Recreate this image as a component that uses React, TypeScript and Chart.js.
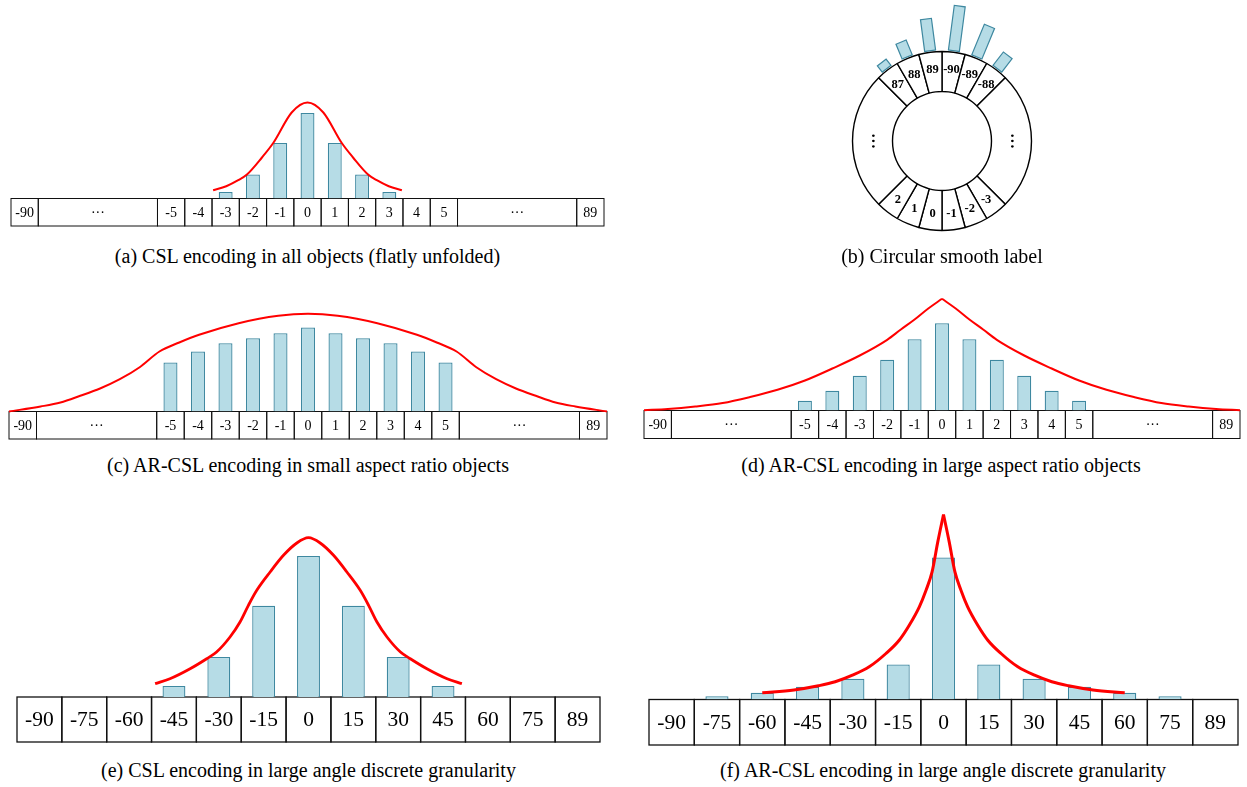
import React, { useEffect, useRef } from "react";
import { Chart, registerables } from "chart.js";

Chart.register(...registerables);
Chart.defaults.font.family = '"Liberation Serif", "Times New Roman", serif';

// ---------------- DATA ----------------
// Fine rows (panels a, c, d): cell labels and widths (in cell units), cell "0" centred at x = 0
const fineLabels = ["-90", "···", "-5", "-4", "-3", "-2", "-1", "0", "1", "2", "3", "4", "5", "···", "89"];
const fineWidths = [1, 4.37, 1, 1, 1, 1, 1, 1, 1, 1, 1, 1, 1, 4.37, 1];

// Coarse rows (panels e, f): 15° cells
const coarseLabels = ["-90", "-75", "-60", "-45", "-30", "-15", "0", "15", "30", "45", "60", "75", "89"];
const coarseWidths = [15, 15, 15, 15, 15, 15, 15, 15, 15, 15, 15, 15, 15];

// (a) CSL in all objects
const aBarX = [-3, -2, -1, 0, 1, 2, 3];
const aBarY = [6.6, 24, 55.6, 85.6, 55.6, 24, 6.6];
const aCurveX = [-3.46, -2.98, -2.54, -2.22, -1.67, -1.25, -0.58, 0, 0.58, 1.25, 1.67, 2.22, 2.54, 2.98, 3.46];
const aCurveY = [8.3, 12.3, 18.3, 24, 41, 55.7, 86, 96, 86, 55.7, 41, 24, 18.3, 12.3, 8.3];

// (b) circular smooth label ring (segment spans in degrees, clockwise from top)
const ringLabels = ["-90", "-89", "-88", "⋮", "-3", "-2", "-1", "0", "1", "2", "⋮", "87", "88", "89"];
const ringSpans = [15, 15, 15, 90, 15, 15, 15, 15, 15, 15, 90, 15, 15, 15];
const ringBars = [45, 33, 17, 0, 0, 0, 0, 0, 0, 0, 0, 8, 16, 32];

// (c) AR-CSL small aspect ratio
const cBarX = [-5, -4, -3, -2, -1, 0, 1, 2, 3, 4, 5];
const cBarY = [49, 60, 68.3, 73.3, 78.3, 84, 78.3, 73.3, 68.3, 60, 49];
const cCurveX = [-10.87, -9.72, -9.0, -8.28, -7.56, -6.84, -6.12, -5.4, -4.68, -3.96, -2.52, -1.08, 0,
  1.08, 2.52, 3.96, 4.68, 5.4, 6.12, 6.84, 7.56, 8.28, 9.0, 9.72, 10.87];
const cCurveY = [0, 5, 9, 15.7, 23, 32.3, 44.3, 60, 69, 76.7, 88.3, 95.7, 97.7,
  95.7, 88.3, 76.7, 69, 60, 44.3, 32.3, 23, 15.7, 9, 5, 0];

// (d) AR-CSL large aspect ratio
const dBarX = [-5, -4, -3, -2, -1, 0, 1, 2, 3, 4, 5];
const dBarY = [9.7, 19.7, 34.7, 50.7, 71.3, 87.3, 71.3, 50.7, 34.7, 19.7, 9.7];
const dCurveLeftX = [-10.87, -10, -9, -8, -7, -6, -5, -4, -3, -2, -1.5, -1, -0.5, 0];
const dCurveLeftY = [0.3, 1.5, 4, 7.5, 13.5, 20.7, 30, 42, 55, 70.7, 81, 91, 102, 111.7];
const dCurveRightX = [0, 0.5, 1, 1.5, 2, 3, 4, 5, 6, 7, 8, 9, 10, 10.87];
const dCurveRightY = [111.7, 102, 91, 81, 70.7, 55, 42, 30, 20.7, 13.5, 7.5, 4, 1.5, 0.3];

// (e) CSL large angle granularity
const eBarX = [-45, -30, -15, 0, 15, 30, 45];
const eBarY = [11, 40, 91.3, 141, 91.3, 40, 11];
const eCurveX = [-51.3, -46.35, -39.6, -34.05, -30.75, -26.25, -22.9, -20.1, -17.3, -12.84, -8.37, -3.9, 0,
  3.9, 8.37, 12.84, 17.3, 20.1, 22.9, 26.25, 30.75, 34.05, 39.6, 46.35, 51.3];
const eCurveY = [13.3, 18.3, 28.3, 38.3, 45, 60, 75, 91.7, 106.7, 125, 141.7, 154, 159.3,
  154, 141.7, 125, 106.7, 91.7, 75, 60, 45, 38.3, 28.3, 18.3, 13.3];

// (f) AR-CSL large angle granularity
const fBarX = [-75, -60, -45, -30, -15, 0, 15, 30, 45, 60, 75];
const fBarY = [3.3, 6.7, 12.7, 20.7, 35, 142, 35, 20.7, 12.7, 6.7, 3.3];
const fCurveLeftX = [-60, -49.5, -41.4, -35.85, -30.15, -24.6, -19.05, -14.67, -11.34, -8.0, -5.78, -3.78, -1.89, 0];
const fCurveLeftY = [6.7, 9.5, 13.7, 17.7, 24.3, 32.7, 46, 59.3, 74.3, 92.7, 109.3, 127.6, 157.6, 185];
const fCurveRightX = [0, 1.89, 3.78, 5.78, 8.0, 11.34, 14.67, 19.05, 24.6, 30.15, 35.85, 41.4, 49.5, 60];
const fCurveRightY = [185, 157.6, 127.6, 109.3, 92.7, 74.3, 59.3, 46, 32.7, 24.3, 17.7, 13.7, 9.5, 6.7];

const captions = [
  "(a) CSL encoding in all objects (flatly unfolded)",
  "(b) Circular smooth label",
  "(c) AR-CSL encoding in small aspect ratio objects",
  "(d) AR-CSL encoding in large aspect ratio objects",
  "(e) CSL encoding in large angle discrete granularity",
  "(f) AR-CSL encoding in large angle discrete granularity",
];

// ---------------- STYLE / LAYOUT ----------------
const BAR_FILL = "#b6dce6";
const BAR_EDGE = "#3e88a0";
const RED = "#ff0000";
const SERIF = '"Liberation Serif", "Times New Roman", serif';

type Geom = { left: number; right: number; boxTop: number; boxBottom: number; top: number };

const boxRowPlugin = {
  id: "boxRow",
  beforeDatasetsDraw(chart: any, _args: any, opts: any) {
    const xs = chart.scales.x;
    const ctx = chart.ctx;
    const top = chart.chartArea.bottom;
    const h = opts.height;
    let pos = opts.start;
    ctx.save();
    ctx.strokeStyle = "#111";
    ctx.lineWidth = opts.lineWidth;
    ctx.fillStyle = "#000";
    ctx.font = `${opts.fontSize}px ${SERIF}`;
    ctx.textAlign = "center";
    ctx.textBaseline = "middle";
    opts.labels.forEach((lab: string, i: number) => {
      const x0 = xs.getPixelForValue(pos);
      const x1 = xs.getPixelForValue(pos + opts.widths[i]);
      ctx.strokeRect(x0, top, x1 - x0, h);
      ctx.fillText(lab, (x0 + x1) / 2, top + h / 2 + opts.textShift);
      pos += opts.widths[i];
    });
    ctx.restore();
  },
};

type Curve = { x: number[]; y: number[] };
type PanelSpec = {
  geom: Geom;
  labels: string[];
  widths: number[];
  barX: number[];
  barY: number[];
  curves: Curve[];
  lineWidth: number;
  fontSize: number;
  boxLine: number;
};

function LinePanel({ spec }: { spec: PanelSpec }) {
  const ref = useRef<HTMLCanvasElement | null>(null);
  const g = spec.geom;
  const canvasLeft = Math.floor(g.left - 4);
  const canvasRight = Math.ceil(g.right + 4);
  const canvasTop = g.top;
  const canvasBottom = Math.ceil(g.boxBottom + 4);
  const W = canvasRight - canvasLeft;
  const H = canvasBottom - canvasTop;
  useEffect(() => {
    if (!ref.current) return;
    const total = spec.widths.reduce((a, b) => a + b, 0);
    const start = -total / 2;
    const centers: number[] = [];
    let p = start;
    spec.widths.forEach((w) => {
      centers.push(p + w / 2);
      p += w;
    });
    const chart = new Chart(ref.current, {
      type: "bar",
      data: {
        datasets: [
          {
            type: "bar",
            data: spec.barX.map((x, i) => ({ x, y: spec.barY[i] })),
            backgroundColor: BAR_FILL,
            borderColor: BAR_EDGE,
            borderWidth: 1.3,
            borderSkipped: "start",
            barPercentage: 0.51,
            categoryPercentage: 1,
            order: 2,
          } as any,
          ...spec.curves.map(
            (c) =>
              ({
                type: "line",
                data: c.x.map((x, i) => ({ x, y: c.y[i] })),
                borderColor: RED,
                borderWidth: spec.lineWidth,
                pointRadius: 0,
                cubicInterpolationMode: "monotone",
                fill: false,
                clip: false,
                order: 1,
              } as any)
          ),
        ],
      },
      options: {
        animation: false,
        responsive: false,
        events: [],
        layout: {
          padding: {
            left: g.left - canvasLeft,
            right: canvasRight - g.right,
            top: 0,
            bottom: canvasBottom - g.boxTop,
          },
        },
        scales: {
          x: {
            type: "linear",
            min: start,
            max: start + total,
            display: false,
            offset: false,
            afterBuildTicks: (axis: any) => {
              axis.ticks = centers.map((v) => ({ value: v }));
            },
          },
          y: { type: "linear", min: 0, max: g.boxTop - canvasTop, display: false },
        },
        plugins: {
          legend: { display: false },
          tooltip: { enabled: false },
          boxRow: {
            labels: spec.labels,
            widths: spec.widths,
            start,
            height: g.boxBottom - g.boxTop,
            fontSize: spec.fontSize,
            lineWidth: spec.boxLine,
            textShift: 1,
          },
        } as any,
      },
      plugins: [boxRowPlugin],
    } as any);
    return () => chart.destroy();
  }, []);
  return (
    <canvas
      ref={ref}
      width={W}
      height={H}
      style={{ position: "absolute", left: canvasLeft, top: canvasTop, width: W, height: H }}
    />
  );
}

const ringPlugin = {
  id: "ringDecor",
  afterDatasetsDraw(chart: any) {
    const ctx = chart.ctx;
    const meta = chart.getDatasetMeta(0);
    meta.data.forEach((arc: any, i: number) => {
      const { x, y, startAngle, endAngle, innerRadius, outerRadius } = arc.getProps(
        ["x", "y", "startAngle", "endAngle", "innerRadius", "outerRadius"],
        true
      );
      const mid = (startAngle + endAngle) / 2;
      const r = (innerRadius + outerRadius) / 2 + 3;
      const lx = x + Math.cos(mid) * r;
      const ly = y + Math.sin(mid) * r;
      ctx.save();
      ctx.fillStyle = "#000";
      ctx.textAlign = "center";
      ctx.textBaseline = "middle";
      if (ringLabels[i] === "⋮") {
        ctx.translate(lx - Math.cos(mid) * 3, ly);
        ctx.rotate(Math.PI / 2);
        ctx.font = `bold 16px ${SERIF}`;
        ctx.fillText("···", 0, 0);
      } else {
        ctx.font = `bold 12.5px ${SERIF}`;
        ctx.fillText(ringLabels[i], lx, ly + 1);
      }
      ctx.restore();
      const v = ringBars[i];
      if (v > 0) {
        ctx.save();
        ctx.translate(x, y);
        ctx.rotate(mid);
        ctx.fillStyle = BAR_FILL;
        ctx.strokeStyle = BAR_EDGE;
        ctx.lineWidth = 1.2;
        ctx.fillRect(outerRadius + 1.5, -5.5, v, 11);
        ctx.strokeRect(outerRadius + 1.5, -5.5, v, 11);
        ctx.restore();
      }
    });
  },
};

function RingPanel() {
  const ref = useRef<HTMLCanvasElement | null>(null);
  const cx = 942;
  const cy = 141;
  const S = 300;
  useEffect(() => {
    if (!ref.current) return;
    const chart = new Chart(ref.current, {
      type: "doughnut",
      data: {
        labels: ringLabels,
        datasets: [
          {
            data: ringSpans,
            backgroundColor: "#ffffff",
            borderColor: "#000000",
            borderWidth: 1.4,
            borderAlign: "center",
          } as any,
        ],
      },
      options: {
        animation: false,
        responsive: false,
        events: [],
        radius: 89.5,
        cutout: "55.3%",
        rotation: 0,
        circumference: 360,
        plugins: { legend: { display: false }, tooltip: { enabled: false } },
      } as any,
      plugins: [ringPlugin],
    } as any);
    return () => chart.destroy();
  }, []);
  return (
    <canvas
      ref={ref}
      width={S}
      height={S}
      style={{ position: "absolute", left: cx - S / 2, top: cy - S / 2, width: S, height: S }}
    />
  );
}

const panels: PanelSpec[] = [
  {
    geom: { left: 11, right: 604, boxTop: 198.5, boxBottom: 226, top: 92 },
    labels: fineLabels, widths: fineWidths, barX: aBarX, barY: aBarY,
    curves: [{ x: aCurveX, y: aCurveY }], lineWidth: 2, fontSize: 14, boxLine: 1,
  },
  {
    geom: { left: 9, right: 607, boxTop: 411.5, boxBottom: 439, top: 305 },
    labels: fineLabels, widths: fineWidths, barX: cBarX, barY: cBarY,
    curves: [{ x: cCurveX, y: cCurveY }], lineWidth: 2, fontSize: 14, boxLine: 1,
  },
  {
    geom: { left: 644, right: 1240, boxTop: 410.5, boxBottom: 438.5, top: 290 },
    labels: fineLabels, widths: fineWidths, barX: dBarX, barY: dBarY,
    curves: [{ x: dCurveLeftX, y: dCurveLeftY }, { x: dCurveRightX, y: dCurveRightY }],
    lineWidth: 2, fontSize: 14, boxLine: 1,
  },
  {
    geom: { left: 17, right: 600, boxTop: 697, boxBottom: 742, top: 525 },
    labels: coarseLabels, widths: coarseWidths, barX: eBarX, barY: eBarY,
    curves: [{ x: eCurveX, y: eCurveY }], lineWidth: 2.8, fontSize: 21.5, boxLine: 1.3,
  },
  {
    geom: { left: 649, right: 1238, boxTop: 699.5, boxBottom: 745, top: 505 },
    labels: coarseLabels, widths: coarseWidths, barX: fBarX, barY: fBarY,
    curves: [{ x: fCurveLeftX, y: fCurveLeftY }, { x: fCurveRightX, y: fCurveRightY }],
    lineWidth: 3, fontSize: 21.5, boxLine: 1.3,
  },
];

const captionPos = [
  { cx: 307.5, top: 245.5 },
  { cx: 942, top: 245.5 },
  { cx: 308, top: 455 },
  { cx: 941, top: 455 },
  { cx: 308.5, top: 759.5 },
  { cx: 943, top: 759.5 },
];

export default function App() {
  useEffect(() => {
    document.body.style.margin = "0";
  }, []);
  return (
    <div
      style={{
        position: "absolute",
        left: 0,
        top: 0,
        width: 1247,
        height: 787,
        background: "#fff",
        overflow: "hidden",
        fontFamily: SERIF,
      }}
    >
      {panels.map((p, i) => (
        <LinePanel key={i} spec={p} />
      ))}
      <RingPanel />
      {captions.map((t, i) => (
        <div
          key={i}
          style={{
            position: "absolute",
            left: captionPos[i].cx - 340,
            width: 680,
            top: captionPos[i].top,
            textAlign: "center",
            fontSize: 20,
            lineHeight: "20px",
            whiteSpace: "nowrap",
            color: "#000",
          }}
        >
          {t}
        </div>
      ))}
    </div>
  );
}
